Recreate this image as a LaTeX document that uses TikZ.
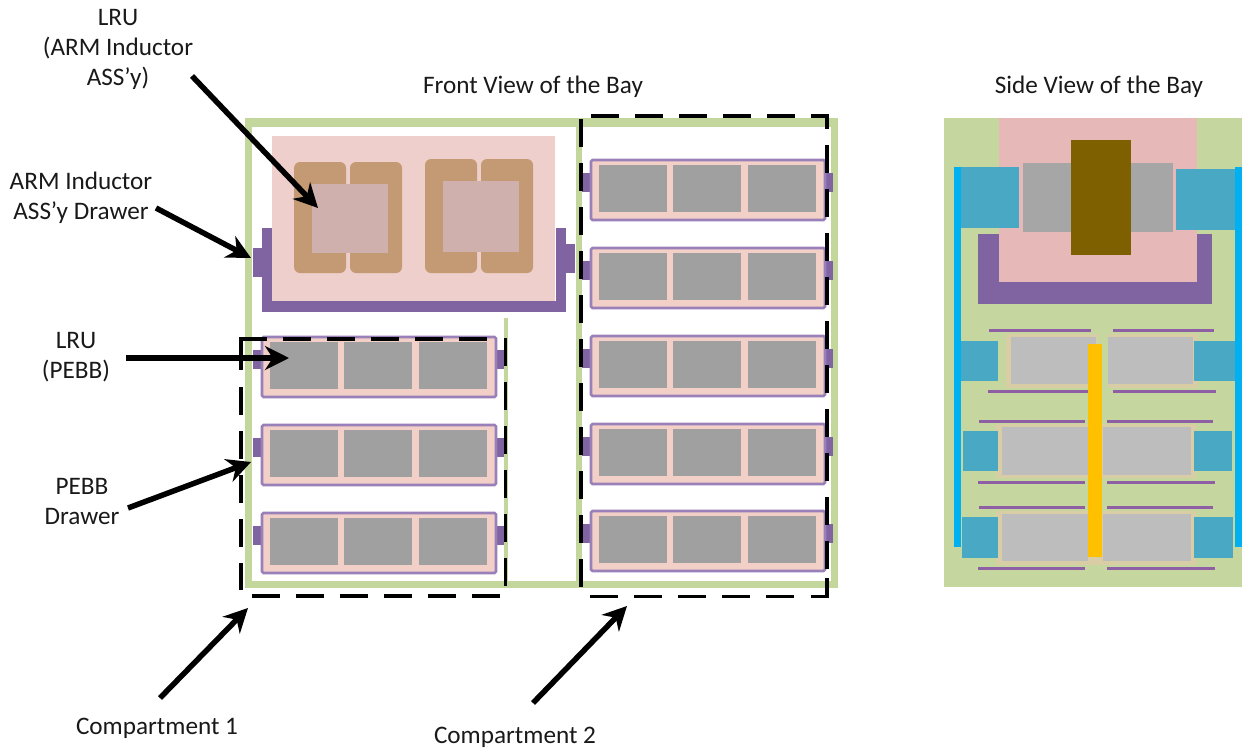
\documentclass[tikz,border=0pt]{standalone}
\usepackage{fontspec}
\setmainfont{Carlito}
\usetikzlibrary{arrows.meta}
\definecolor{frameg}{HTML}{C3D69B}
\definecolor{sidebg}{HTML}{C5D69F}
\definecolor{pinkA}{HTML}{EFCFCB}
\definecolor{pinkB}{HTML}{F2CFC7}
\definecolor{pinkS}{HTML}{E6B9B8}
\definecolor{coil}{HTML}{C49A74}
\definecolor{core}{HTML}{CFB0AC}
\definecolor{purp}{HTML}{8064A2}
\definecolor{purpL}{HTML}{9A80B8}
\definecolor{grayD}{HTML}{A0A0A0}
\definecolor{grayS}{HTML}{A6A6A6}
\definecolor{grayL}{HTML}{BDBDBD}
\definecolor{tan}{HTML}{D9CDA6}
\definecolor{teal}{HTML}{49A9C4}
\definecolor{skyb}{HTML}{00B0F0}
\definecolor{brownD}{HTML}{7F6000}
\definecolor{yell}{HTML}{FFC000}
\definecolor{thinp}{HTML}{8E5FA4}
\tikzset{
  lab/.style={font=\fontsize{25.2}{30}\selectfont,align=center,inner sep=0pt,text=black!90},
  pointer/.style={line width=5.5pt,-{Stealth[length=24pt,width=24pt]}},
  compdash/.style={line width=3.2pt,dash pattern=on 28pt off 16pt},
  compsolid/.style={line width=3.2pt,miter limit=10},
}
% box: x1 y1 x2 y2 colour
\newcommand{\bx}[5]{\fill[#5] (#1,#2) rectangle (#3,#4);}
\newcommand{\rbx}[5]{\fill[#5,rounded corners=6pt] (#1,#2) rectangle (#3,#4);}
% PEBB drawer: x of left edge, y of top edge
\newcommand{\pebb}[2]{%
  \bx{\numexpr#1-8\relax}{\numexpr#2+14\relax}{\numexpr#1+1\relax}{\numexpr#2+33\relax}{purp}
  \bx{\numexpr#1+235\relax}{\numexpr#2+14\relax}{\numexpr#1+243\relax}{\numexpr#2+33\relax}{purp}
  \draw[purpL,fill=pinkB,line width=2.8pt,rounded corners=1.5pt] (#1+1,#2+1) rectangle (#1+235,#2+61);
  \bx{\numexpr#1+9\relax}{\numexpr#2+6\relax}{\numexpr#1+77\relax}{\numexpr#2+53\relax}{grayD}
  \bx{\numexpr#1+83\relax}{\numexpr#2+6\relax}{\numexpr#1+151\relax}{\numexpr#2+53\relax}{grayD}
  \bx{\numexpr#1+158\relax}{\numexpr#2+6\relax}{\numexpr#1+226\relax}{\numexpr#2+53\relax}{grayD}
}
\begin{document}
\begin{tikzpicture}[x=1pt,y=-1pt]
\useasboundingbox (0,0) rectangle (1242,750);
% ---- front view frame
\bx{245}{118}{838}{127}{frameg}
\bx{245}{118}{252}{588}{frameg}
\bx{245}{581}{838}{588}{frameg}
\bx{831}{118}{838}{588}{frameg}
\bx{576}{118}{582}{588}{frameg}
\bx{504}{318}{508}{588}{frameg}
% ---- inductor drawer
\bx{272}{136}{555}{301}{pinkA}
\bx{262}{228}{272}{312}{purp}
\bx{556}{228}{566}{312}{purp}
\bx{262}{301}{566}{312}{purp}
\bx{253}{248}{262}{277}{purp}
\bx{566}{244}{575}{273}{purp}
\rbx{294}{162}{346}{273}{coil}
\rbx{350}{162}{402}{273}{coil}
\rbx{425}{159}{477}{273}{coil}
\rbx{481}{159}{533}{273}{coil}
\bx{312}{184}{388}{253}{core}
\bx{443}{181}{519}{252}{core}
% ---- PEBB drawers
\pebb{261}{336}
\pebb{261}{424}
\pebb{261}{512}
\pebb{590}{159}
\pebb{590}{247}
\pebb{590}{335}
\pebb{590}{423}
\pebb{590}{510}
% ---- compartment 1 outline
\draw[compsolid] (241,370)--(241,339)--(267,339);
\draw[compdash] (283,339)--(490,339);
\draw[compdash] (241,387)--(241,590);
\draw[compdash] (505.5,338)--(505.5,588);
\draw[compdash] (252,596)--(501,596);
% ---- compartment 2 outline
\draw[compdash] (591,116)--(800,116);
\draw[compsolid] (811,116)--(827,116)--(827,129);
\draw[compdash] (827,145)--(827,582);
\draw[compsolid] (827,578)--(827,596.5)--(811,596.5);
\draw[compdash] (581,119)--(581,588);
\draw[compdash] (590,596.5)--(800,596.5);
% ---- side view
\bx{944}{118}{1242}{587}{sidebg}
\bx{999}{118}{1197}{282}{pinkS}
\bx{978}{234}{999}{304}{purp}
\bx{1197}{234}{1212}{304}{purp}
\bx{978}{282}{1212}{304}{purp}
\bx{954}{167}{961}{547}{skyb}
\bx{1235}{167}{1242}{547}{skyb}
\bx{961}{167}{1019}{228}{teal}
\bx{1176}{169}{1235}{230}{teal}
\bx{1023}{163}{1173}{232}{grayS}
\bx{1071}{140}{1131}{255}{brownD}
% lower rows: tan, grey
\bx{1006}{334}{1198}{388}{tan}
\bx{996}{424}{1196}{478}{tan}
\bx{996}{511}{1196}{565}{tan}
\bx{1098}{334}{1108}{388}{sidebg}
\bx{1011}{337}{1096}{384}{grayL}
\bx{1108}{337}{1193}{384}{grayL}
\bx{1002}{427}{1088}{475}{grayL}
\bx{1103}{427}{1191}{475}{grayL}
\bx{1002}{514}{1088}{561}{grayL}
\bx{1103}{514}{1191}{561}{grayL}
% teal blocks
\bx{961}{341}{998}{381}{teal}
\bx{1194}{341}{1235}{381}{teal}
\bx{963}{431}{998}{471}{teal}
\bx{1194}{431}{1232}{471}{teal}
\bx{962}{517}{998}{558}{teal}
\bx{1194}{517}{1233}{558}{teal}
% thin purple strips
\bx{989}{328.5}{1091}{331.5}{thinp}
\bx{1113}{328.5}{1214}{331.5}{thinp}
\bx{988}{389.5}{1089}{392.5}{thinp}
\bx{1113}{389.5}{1216}{392.5}{thinp}
\bx{979}{419.5}{1085}{422.5}{thinp}
\bx{1107}{419.5}{1213}{422.5}{thinp}
\bx{978}{480.5}{1085}{483.5}{thinp}
\bx{1107}{480.5}{1215}{483.5}{thinp}
\bx{979}{505.5}{1085}{508.5}{thinp}
\bx{1107}{505.5}{1213}{508.5}{thinp}
\bx{978}{566.5}{1085}{569.5}{thinp}
\bx{1107}{566.5}{1215}{569.5}{thinp}
\bx{1088}{344}{1102}{557}{yell}
% ---- labels
\node[lab] (front) at (533,87) {Front View of the Bay};
\node[lab] (side) at (1099,87) {Side View of the Bay};
\node[lab] (lruarm) at (118,49) {LRU\\(ARM Inductor\\ASS’y)};
\node[lab] (armdrawer) at (81,198) {ARM Inductor\\ASS’y Drawer};
\node[lab] (lrupebb) at (76,357) {LRU\\(PEBB)};
\node[lab] (pebbdrawer) at (82,501) {PEBB\\Drawer};
\node[lab] (compone) at (157,728) {Compartment 1};
\node[lab] (comptwo) at (515,737) {Compartment 2};
% ---- pointers
\coordinate (a1s) at (192,76);   \coordinate (a1e) at (318,208);
\coordinate (a2s) at (156,208);  \coordinate (a2e) at (251,258);
\coordinate (a3s) at (126,358);  \coordinate (a3e) at (289,358);
\coordinate (a4s) at (128,508);  \coordinate (a4e) at (251,462);
\coordinate (a5s) at (160,698);  \coordinate (a5e) at (248,608);
\coordinate (a6s) at (533,703);  \coordinate (a6e) at (627,606);
\draw[pointer] (a1s)--(a1e);
\draw[pointer] (a2s)--(a2e);
\draw[pointer] (a3s)--(a3e);
\draw[pointer] (a4s)--(a4e);
\draw[pointer] (a5s)--(a5e);
\draw[pointer] (a6s)--(a6e);
\end{tikzpicture}
\end{document}
